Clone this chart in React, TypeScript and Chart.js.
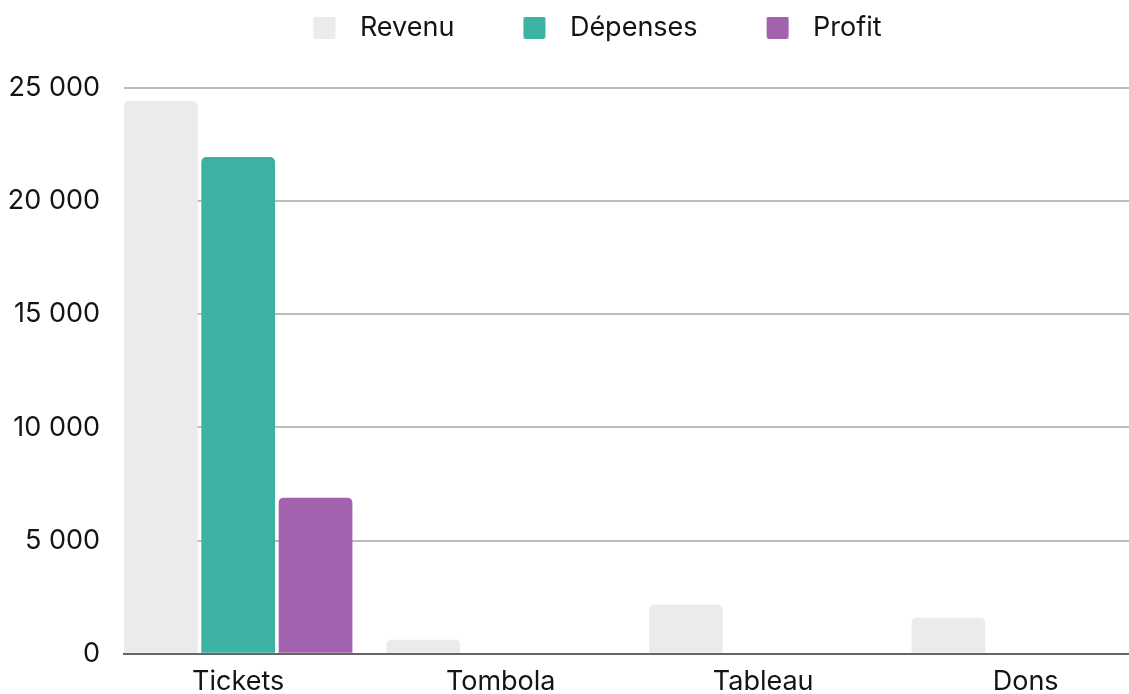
import { useEffect, useRef } from 'react';
import { Chart, registerables } from 'chart.js';

Chart.register(...registerables);

const categories = ['Tickets', 'Tombola', 'Tableau', 'Dons'];
const seriesNames = ['Revenu', 'Dépenses', 'Profit'];
const revenu = [24430, 620, 2180, 1590];
const depenses = [21950, 0, 0, 0];
const profit = [6900, 0, 0, 0];
const yTickValues = [0, 5000, 10000, 15000, 20000, 25000];
const yTickLabels = ['0', '5 000', '10 000', '15 000', '20 000', '25 000'];
const seriesColors = ['#ebebeb', '#3cb2a2', '#a262ad'];

const FONT = 'Inter';
const FONT_SIZE = 27;
const TEXT_COLOR = '#141414';

const SW_LEFT = 66;
const SW_SIZE = 22;
const SW_GAP = 11;

function makeSwatch(color: string) {
  const c = document.createElement('canvas');
  c.width = SW_LEFT + SW_SIZE + SW_GAP;
  c.height = SW_SIZE;
  const g = c.getContext('2d')!;
  g.fillStyle = color;
  g.beginPath();
  if ((g as any).roundRect) (g as any).roundRect(SW_LEFT, 0, SW_SIZE, SW_SIZE, 2);
  else g.rect(SW_LEFT, 0, SW_SIZE, SW_SIZE);
  g.fill();
  return c;
}

export default function App() {
  const ref = useRef<HTMLCanvasElement>(null);

  useEffect(() => {
    const swatches = seriesColors.map(makeSwatch);
    const seriesData = [revenu, depenses, profit];

    const legendSpacing = {
      id: 'legendSpacing',
      beforeInit(chart: any) {
        const legend = chart.legend;
        if (!legend) return;
        const orig = legend.fit;
        legend.fit = function () {
          orig.call(this);
          this.height += 37;
        };
      },
    };

    const chart = new Chart(ref.current!, {
      type: 'bar',
      data: {
        datasets: seriesNames.map((name, s) => ({
          label: name,
          data: seriesData[s].map((v, i) => ({ x: i, y: v })),
          backgroundColor: seriesColors[s],
          borderRadius: 5,
          borderSkipped: 'start',
          categoryPercentage: 0.884,
          barPercentage: 0.953,
        })),
      },
      options: {
        animation: false,
        responsive: true,
        maintainAspectRatio: false,
        layout: { padding: { top: 11, left: 0, right: 0, bottom: 0 } },
        plugins: {
          tooltip: { enabled: false },
          legend: {
            position: 'top',
            labels: {
              usePointStyle: true,
              pointStyleWidth: SW_LEFT + SW_SIZE + SW_GAP,
              boxHeight: SW_SIZE,
              padding: 3,
              color: TEXT_COLOR,
              font: { family: FONT, size: FONT_SIZE },
              generateLabels(chart: any) {
                const items = Chart.defaults.plugins.legend.labels.generateLabels(chart);
                return items.map((it: any, i: number) => ({ ...it, pointStyle: swatches[i] }));
              },
            },
          },
        },
        scales: {
          x: {
            type: 'linear',
            offset: false,
            min: -0.435,
            max: 3.3936,
            afterFit(scale: any) {
              scale.height = 40;
            },
            grid: { display: false, drawTicks: false, offset: false },
            border: { display: true, color: '#666666', width: 2, z: 1 },
            ticks: {
              stepSize: 1,
              includeBounds: false,
              autoSkip: false,
              maxRotation: 0,
              padding: 12,
              color: TEXT_COLOR,
              font: { family: FONT, size: FONT_SIZE },
              callback: (v: any) => (Number.isInteger(v) && categories[v] !== undefined ? categories[v] : ''),
            },
          },
          y: {
            min: 0,
            max: 25000,
            afterFit(scale: any) {
              scale.width = 124;
            },
            grid: { color: '#bdbdbd', lineWidth: 2, drawTicks: false },
            border: { display: false },
            ticks: {
              stepSize: 5000,
              padding: 24,
              color: TEXT_COLOR,
              font: { family: FONT, size: FONT_SIZE },
              callback: (v: any) => {
                const idx = yTickValues.indexOf(v);
                return idx >= 0 ? yTickLabels[idx] : '';
              },
            },
          },
        },
      },
      plugins: [legendSpacing],
    } as any);

    return () => chart.destroy();
  }, []);

  return (
    <div style={{ position: 'fixed', left: 0, top: 0, width: 1129, height: 694, background: '#ffffff' }}>
      <canvas ref={ref} />
    </div>
  );
}
